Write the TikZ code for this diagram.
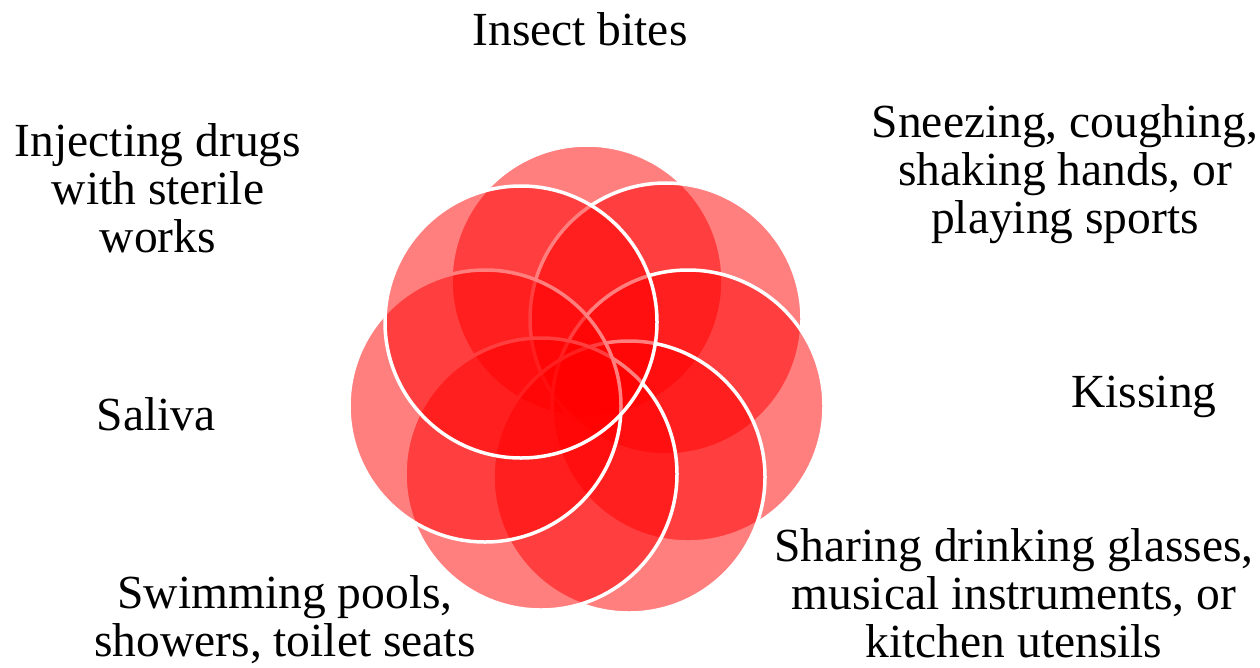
\documentclass[tikz,border=0pt]{standalone}
\usepackage{fontspec}
\setmainfont{Liberation Serif}
\begin{document}
\begin{tikzpicture}[x=1pt,y=-1pt,
  blob/.style={circle, minimum size=272pt, inner sep=0pt, outer sep=0pt,
    fill=red, fill opacity=0.5, draw=white, draw opacity=1, line width=3.5pt},
  lbl/.style={align=center, inner sep=0pt, text=black,
    font=\fontsize{47.5}{48}\selectfont}]
\useasboundingbox (0,0) rectangle (1260,667);
% circles, drawn clockwise from the top
\node[blob] (c1) at (587,281) {};
\node[blob] (c2) at (666,319) {};
\node[blob] (c3) at (688,406) {};
\node[blob] (c4) at (629,477) {};
\node[blob] (c5) at (541,474) {};
\node[blob] (c6) at (485,406) {};
\node[blob] (c7) at (521,322) {};
% labels
\node[lbl] (t1) at (580,29) {Insect bites};
\node[lbl] (t2) at (1065,174) {Sneezing, coughing,\\shaking hands, or\\playing sports};
\node[lbl] (t3) at (1144,397) {Kissing};
\node[lbl] (t4) at (1014,593) {Sharing drinking glasses,\\musical instruments, or\\kitchen utensils};
\node[lbl] (t5) at (285,620) {Swimming pools,\\showers, toilet seats};
\node[lbl] (t6) at (156,414) {Saliva};
\node[lbl] (t7) at (158,188) {Injecting drugs\\with sterile\\works};
\end{tikzpicture}
\end{document}
